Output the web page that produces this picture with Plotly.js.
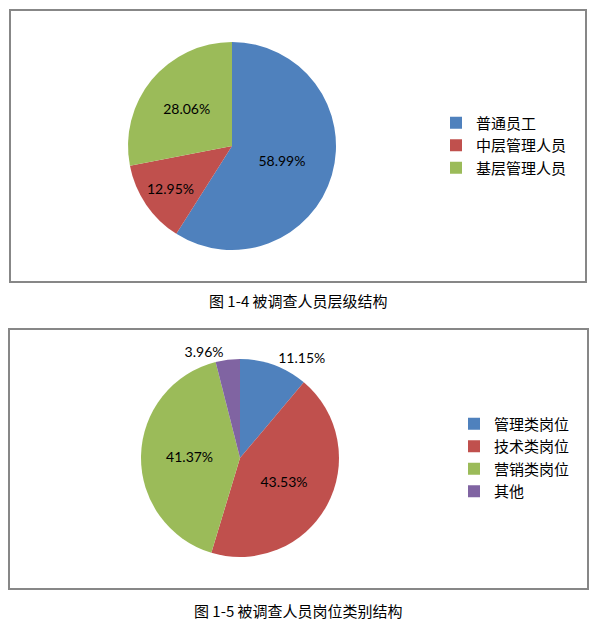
<!DOCTYPE html>
<html>
<head>
<meta charset="utf-8">
<script src="https://cdn.plot.ly/plotly-3.0.1.min.js"></script>
<style>
  html, body { margin: 0; padding: 0; background: #fff; }
  #chart { width: 594px; height: 622px; }
</style>
</head>
<body>
<div id="chart"></div>
<script>
// 图 1-4 被调查人员层级结构
const levelLabels = ['普通员工', '中层管理人员', '基层管理人员'];
const levelValues = [58.99, 12.95, 28.06];

// 图 1-5 被调查人员岗位类别结构
const postLabels = ['管理类岗位', '技术类岗位', '营销类岗位', '其他'];
const postValues = [11.15, 43.53, 41.37, 3.96];
const postTextPos = ['outside', 'inside', 'inside', 'outside'];

const colors = ['#4F81BD', '#C0504D', '#9BBB59', '#8064A2'];

const W = 594, H = 622;
const px = v => v / W;
const py = v => 1 - v / H;

const labelFont = { family: 'Lato, "Liberation Sans", sans-serif', size: 14, color: '#000' };
const cjkFont = { family: '"Noto Sans CJK SC", sans-serif', size: 15, color: '#000' };

const pieCommon = {
  type: 'pie',
  sort: false,
  direction: 'clockwise',
  rotation: 0,
  textinfo: 'percent',
  texttemplate: '%{value:.2f}%',
  insidetextorientation: 'horizontal',
  textfont: labelFont,
  insidetextfont: labelFont,
  outsidetextfont: labelFont,
  hoverinfo: 'label+value'
};

const traces = [
  Object.assign({}, pieCommon, {
    labels: levelLabels,
    values: levelValues,
    marker: { colors: colors.slice(0, 3), line: { width: 0 } },
    textposition: 'inside',
    domain: { x: [px(128), px(336)], y: [py(250), py(42)] },
    legend: 'legend'
  }),
  Object.assign({}, pieCommon, {
    labels: postLabels,
    values: postValues,
    marker: { colors: colors, line: { width: 0 } },
    textposition: postTextPos,
    domain: { x: [px(141), px(339)], y: [py(557), py(359)] },
    legend: 'legend2'
  })
];

const boxLine = { color: '#878787', width: 2 };

const layout = {
  width: W,
  height: H,
  margin: { l: 0, r: 0, t: 0, b: 0 },
  paper_bgcolor: '#fff',
  showlegend: true,
  legend: {
    x: px(436), xanchor: 'left',
    y: py(145.5), yanchor: 'middle',
    font: cjkFont,
    bgcolor: 'rgba(0,0,0,0)'
  },
  legend2: {
    x: px(454), xanchor: 'left',
    y: py(457.5), yanchor: 'middle',
    font: cjkFont,
    bgcolor: 'rgba(0,0,0,0)'
  },
  shapes: [
    { type: 'rect', xref: 'paper', yref: 'paper',
      x0: px(10), x1: px(586), y0: py(282), y1: py(10), line: boxLine },
    { type: 'rect', xref: 'paper', yref: 'paper',
      x0: px(9), x1: px(588), y0: py(589), y1: py(329), line: boxLine }
  ],
  annotations: [
    { text: '图 1-4 被调查人员层级结构', xref: 'paper', yref: 'paper',
      x: px(298), y: py(300), xanchor: 'center', yanchor: 'middle',
      showarrow: false, font: cjkFont },
    { text: '图 1-5 被调查人员岗位类别结构', xref: 'paper', yref: 'paper',
      x: px(298), y: py(610), xanchor: 'center', yanchor: 'middle',
      showarrow: false, font: cjkFont }
  ]
};

Plotly.newPlot('chart', traces, layout, { displayModeBar: false, staticPlot: true });
</script>
</body>
</html>
